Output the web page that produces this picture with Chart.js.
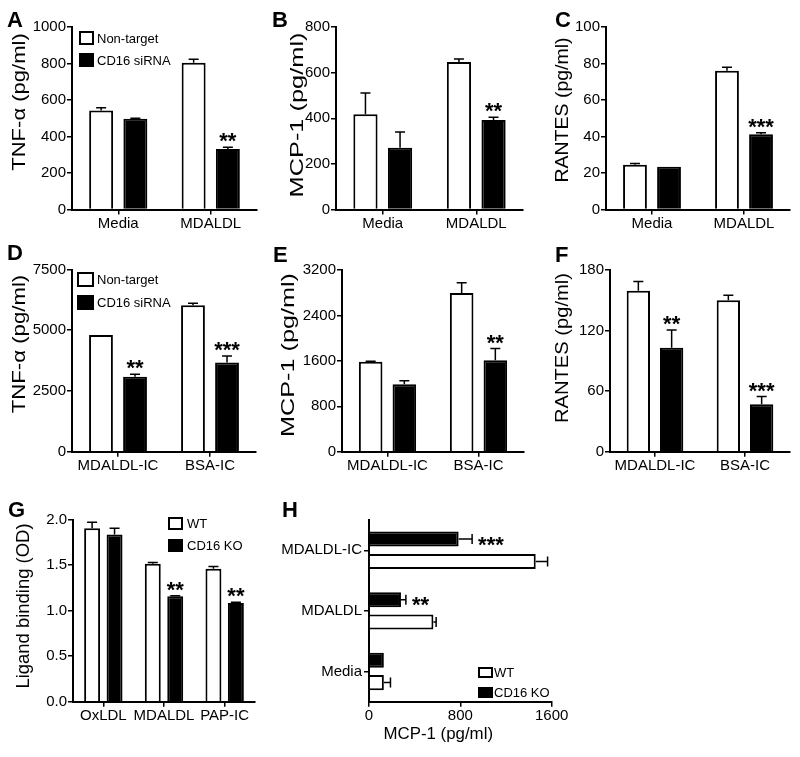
<!DOCTYPE html>
<html>
<head>
<meta charset="utf-8">
<script src="https://cdn.jsdelivr.net/npm/chart.js@4.4.1/dist/chart.umd.min.js"></script>
<style>
  html, body { margin: 0; padding: 0; background: #fff; }
  #fig { position: relative; width: 800px; height: 757px; overflow: hidden;
         font-family: 'Liberation Sans', Arial, Helvetica, sans-serif; color: #000; }
  #fig canvas { position: absolute; left: 0; top: 0; }
  .letter { position: absolute; font-weight: bold; font-size: 22px; line-height: 1; }
  .title { position: absolute; font-size: 18px; line-height: 1; white-space: nowrap; }
</style>
</head>
<body>
<div id="fig"></div>
<script>
// ---------------- DATA ----------------
const catsABC = ['Media', 'MDALDL'];
const catsDEF = ['MDALDL-IC', 'BSA-IC'];
const catsG = ['OxLDL', 'MDALDL', 'PAP-IC'];
const catsH = ['MDALDL-IC', 'MDALDL', 'Media'];

const seriesSi = ['Non-target', 'CD16 siRNA'];
const seriesKO = ['WT', 'CD16 KO'];

// A: TNF-α (pg/ml)
const aNon = [543, 804];      const aNonErr = [15, 19];
const aSi  = [497, 332];      const aSiErr  = [3, 9];
const aStars = ['', '**'];
const aTicks = [0, 1000, 200];

// B: MCP-1 (pg/ml)
const bNon = [417, 647];      const bNonErr = [94, 13];
const bSi  = [271, 392];      const bSiErr  = [69, 12];
const bStars = ['', '**'];
const bTicks = [0, 800, 200];

// C: RANTES (pg/ml)
const cNon = [24.5, 76];      const cNonErr = [0.7, 2];
const cSi  = [23.4, 41.2];    const cSiErr  = [0, 0.8];
const cStars = ['', '***'];
const cTicks = [0, 100, 20];

// D: TNF-α (pg/ml), immune complexes
const dNon = [4808, 6030];    const dNonErr = [0, 85];
const dSi  = [3090, 3670];    const dSiErr  = [95, 270];
const dStars = ['**', '***'];
const dTicks = [0, 7500, 2500];

// E: MCP-1 (pg/ml), immune complexes
const eNon = [1582, 2796];    const eNonErr = [12, 180];
const eSi  = [1190, 1612];    const eSiErr  = [58, 205];
const eStars = ['', '**'];
const eTicks = [0, 3200, 800];

// F: RANTES (pg/ml), immune complexes
const fNon = [159.5, 150];    const fNonErr = [9, 5];
const fSi  = [103, 47];       const fSiErr  = [17.5, 7.6];
const fStars = ['**', '***'];
const fTicks = [0, 180, 60];

// G: Ligand binding (OD)
const gWT = [1.905, 1.515, 1.46];   const gWTErr = [0.066, 0.014, 0.025];
const gKO = [1.836, 1.157, 1.084];  const gKOErr = [0.069, 0.007, 0.007];
const gStars = ['', '**', '**'];
const gTicks = [0, 2, 0.5];

// H: MCP-1 (pg/ml), horizontal
const hWT = [1460, 564, 130];  const hWTErr = [104, 24, 58];
const hKO = [785, 280, 130];   const hKOErr = [118, 43, 0];
const hStars = ['***', '**', ''];
const hTicks = [0, 1600, 800];

// ---------------- RENDER ----------------
const FW = 800, FH = 757;
const FONT = "'Liberation Sans', Arial, Helvetica, sans-serif";
Chart.defaults.font.family = FONT;
Chart.defaults.font.size = 15;
Chart.defaults.color = '#000';
const fig = document.getElementById('fig');

const errorBarPlugin = {
  id: 'errbars',
  afterDatasetsDraw(chart) {
    const ctx = chart.ctx;
    const horiz = chart.options.indexAxis === 'y';
    const vScale = horiz ? chart.scales.x : chart.scales.y;
    const cap = 5;
    chart.data.datasets.forEach((ds, i) => {
      const meta = chart.getDatasetMeta(i);
      meta.data.forEach((bar, j) => {
        const v = ds.data[j];
        const e = ds.errors ? ds.errors[j] : 0;
        const p0 = vScale.getPixelForValue(v);
        const p1 = vScale.getPixelForValue(v + e);
        ctx.save();
        ctx.strokeStyle = '#000';
        ctx.lineWidth = 1.5;
        if (e > 0) {
          ctx.beginPath();
          if (horiz) {
            ctx.moveTo(p0, bar.y); ctx.lineTo(p1, bar.y);
            ctx.moveTo(p1, bar.y - cap); ctx.lineTo(p1, bar.y + cap);
          } else {
            ctx.moveTo(bar.x, p0); ctx.lineTo(bar.x, p1);
            ctx.moveTo(bar.x - cap, p1); ctx.lineTo(bar.x + cap, p1);
          }
          ctx.stroke();
        }
        const s = ds.stars ? ds.stars[j] : '';
        if (s) {
          ctx.fillStyle = '#000';
          ctx.font = 'bold 22px ' + FONT;
          ctx.textBaseline = 'alphabetic';
          if (horiz) {
            ctx.textAlign = 'left';
            ctx.fillText(s, p1 + 6, bar.y + 12.5);
          } else {
            ctx.textAlign = 'center';
            ctx.fillText(s, bar.x, p1 + 1);
          }
        }
        ctx.restore();
      });
    });
  }
};

const boxLegendPlugin = {
  id: 'boxLegend',
  afterDraw(chart, args, opts) {
    if (!opts || !opts.items) return;
    const ctx = chart.ctx;
    ctx.save();
    opts.items.forEach((idx, k) => {
      const ds = chart.data.datasets[idx];
      const x = opts.x, y = opts.y + k * opts.step;
      ctx.fillStyle = ds.backgroundColor;
      ctx.fillRect(x, y, opts.w, opts.h);
      ctx.strokeStyle = '#000';
      ctx.lineWidth = 2;
      ctx.strokeRect(x + 1, y + 1, opts.w - 2, opts.h - 2);
      ctx.fillStyle = '#000';
      ctx.font = '13px ' + FONT;
      ctx.textAlign = 'left';
      ctx.textBaseline = 'middle';
      ctx.fillText(ds.label, x + opts.w + opts.gap, y + opts.h / 2 + 1);
    });
    ctx.restore();
  }
};

function axisBase() {
  return {
    grid: { display: true, drawOnChartArea: false, drawTicks: true, tickLength: 5,
            color: '#000', lineWidth: 1.5 },
    border: { display: true, color: '#000', width: 2 },
    ticks: { color: '#000', font: { size: 15, family: FONT } }
  };
}

function makePanel(p) {
  const canvas = document.createElement('canvas');
  canvas.width = FW; canvas.height = FH;
  fig.appendChild(canvas);
  const horiz = !!p.horizontal;
  const cat = axisBase();
  cat.type = 'category';
  cat.grid.offset = false;
  cat.ticks.padding = horiz ? 2 : 0;
  cat.ticks.autoSkip = false;
  cat.ticks.maxRotation = 0;
  cat.ticks.minRotation = 0;
  const val = axisBase();
  val.type = 'linear';
  val.min = p.ticks[0]; val.max = p.ticks[1];
  val.ticks.stepSize = p.ticks[2];
  val.ticks.padding = horiz ? 0 : 1;
  val.ticks.maxRotation = 0;
  val.ticks.callback = p.fmt || (v => String(v));
  const fitLeft = s => { s.width = p.plot.left; };
  const fitBottom = s => { s.height = FH - p.plot.bottom; };
  let scales;
  if (horiz) {
    cat.afterFit = fitLeft; val.afterFit = fitBottom;
    cat.position = 'left'; val.position = 'bottom';
    scales = { x: val, y: cat };
  } else {
    cat.afterFit = fitBottom; val.afterFit = fitLeft;
    cat.position = 'bottom'; val.position = 'left';
    scales = { x: cat, y: val };
  }
  const datasets = p.series.map(s => ({
    label: s.label, data: s.data, errors: s.err, stars: s.stars,
    backgroundColor: s.fill, borderColor: '#000', borderWidth: 2,
    categoryPercentage: p.catPct, barPercentage: p.barPct
  }));
  new Chart(canvas, {
    type: 'bar',
    data: { labels: p.labels, datasets },
    options: {
      indexAxis: horiz ? 'y' : 'x',
      responsive: false, animation: false, events: [],
      devicePixelRatio: 1,
      layout: { padding: { left: 0, top: p.plot.top, right: FW - p.plot.right, bottom: 0 } },
      scales,
      plugins: { legend: { display: false }, tooltip: { enabled: false },
                 boxLegend: p.legend || {} }
    },
    plugins: [errorBarPlugin, boxLegendPlugin]
  });
}

function addLetter(t, x, y) {
  const d = document.createElement('div');
  d.className = 'letter'; d.textContent = t;
  d.style.left = x + 'px'; d.style.top = y + 'px';
  fig.appendChild(d);
}
function addTitle(t, cx, cy, len, rotate, size) {
  const d = document.createElement('div');
  d.className = 'title'; d.textContent = t;
  if (size) d.style.fontSize = size + 'px';
  fig.appendChild(d);
  const w = d.offsetWidth, h = d.offsetHeight;
  const s = len / w;
  d.style.left = (cx - w / 2) + 'px';
  d.style.top = (cy - h / 2) + 'px';
  d.style.transform = (rotate ? 'rotate(-90deg) ' : '') + 'scaleX(' + s.toFixed(3) + ')';
}

const WHITE = '#ffffff', BLACK = '#000000';
const siSeries = (non, nonE, si, siE, stars) => [
  { label: seriesSi[0], data: non, err: nonE, fill: WHITE },
  { label: seriesSi[1], data: si, err: siE, stars, fill: BLACK }
];

makePanel({ labels: catsABC, series: siSeries(aNon, aNonErr, aSi, aSiErr, aStars), ticks: aTicks,
  plot: { left: 72, right: 257, top: 27, bottom: 209.5 }, catPct: 0.74, barPct: 0.7,
  legend: { x: 79, y: 31, w: 15, h: 14, step: 22, gap: 3, items: [0, 1] } });
makePanel({ labels: catsABC, series: siSeries(bNon, bNonErr, bSi, bSiErr, bStars), ticks: bTicks,
  plot: { left: 336, right: 523, top: 27, bottom: 209.5 }, catPct: 0.74, barPct: 0.7 });
makePanel({ labels: catsABC, series: siSeries(cNon, cNonErr, cSi, cSiErr, cStars), ticks: cTicks,
  plot: { left: 606, right: 790, top: 27, bottom: 209.5 }, catPct: 0.74, barPct: 0.7 });
makePanel({ labels: catsDEF, series: siSeries(dNon, dNonErr, dSi, dSiErr, dStars), ticks: dTicks,
  plot: { left: 72, right: 256, top: 269.5, bottom: 451.7 }, catPct: 0.74, barPct: 0.7,
  legend: { x: 77, y: 272, w: 17, h: 15, step: 23, gap: 3, items: [0, 1] } });
makePanel({ labels: catsDEF, series: siSeries(eNon, eNonErr, eSi, eSiErr, eStars), ticks: eTicks,
  plot: { left: 342, right: 524, top: 270, bottom: 451.7 }, catPct: 0.74, barPct: 0.7 });
makePanel({ labels: catsDEF, series: siSeries(fNon, fNonErr, fSi, fSiErr, fStars), ticks: fTicks,
  plot: { left: 610, right: 790, top: 270, bottom: 451.7 }, catPct: 0.74, barPct: 0.7 });
makePanel({ labels: catsG, ticks: gTicks, fmt: v => v.toFixed(1),
  series: [
    { label: seriesKO[0], data: gWT, err: gWTErr, fill: WHITE },
    { label: seriesKO[1], data: gKO, err: gKOErr, stars: gStars, fill: BLACK }
  ],
  plot: { left: 73, right: 255, top: 519.5, bottom: 701.7 }, catPct: 0.74, barPct: 0.71,
  legend: { x: 168, y: 517, w: 15, h: 13, step: 22, gap: 4, items: [0, 1] } });
makePanel({ labels: catsH, ticks: hTicks, horizontal: true,
  series: [
    { label: seriesKO[1], data: hKO, err: hKOErr, stars: hStars, fill: BLACK },
    { label: seriesKO[0], data: hWT, err: hWTErr, fill: WHITE }
  ],
  plot: { left: 369, right: 551.7, top: 520, bottom: 701.7 }, catPct: 0.74, barPct: 0.67,
  legend: { x: 478, y: 667, w: 15, h: 11, step: 20, gap: 1, items: [1, 0] } });

addLetter('A', 7, 9);   addLetter('B', 272, 9);   addLetter('C', 555, 9);
addLetter('D', 7, 242); addLetter('E', 273, 244); addLetter('F', 555, 244);
addLetter('G', 8, 499); addLetter('H', 282, 499);

addTitle('TNF-α (pg/ml)', 19, 102, 137, true);
addTitle('MCP-1 (pg/ml)', 296, 114.5, 165, true);
addTitle('RANTES (pg/ml)', 562, 109.5, 145, true);
addTitle('TNF-α (pg/ml)', 18.5, 344, 138, true);
addTitle('MCP-1 (pg/ml)', 287, 355, 164, true);
addTitle('RANTES (pg/ml)', 562, 348, 150, true);
addTitle('Ligand binding (OD)', 22, 605.5, 165, true);
addTitle('MCP-1 (pg/ml)', 438.3, 733, 110, false, 17);
</script>
</body>
</html>
